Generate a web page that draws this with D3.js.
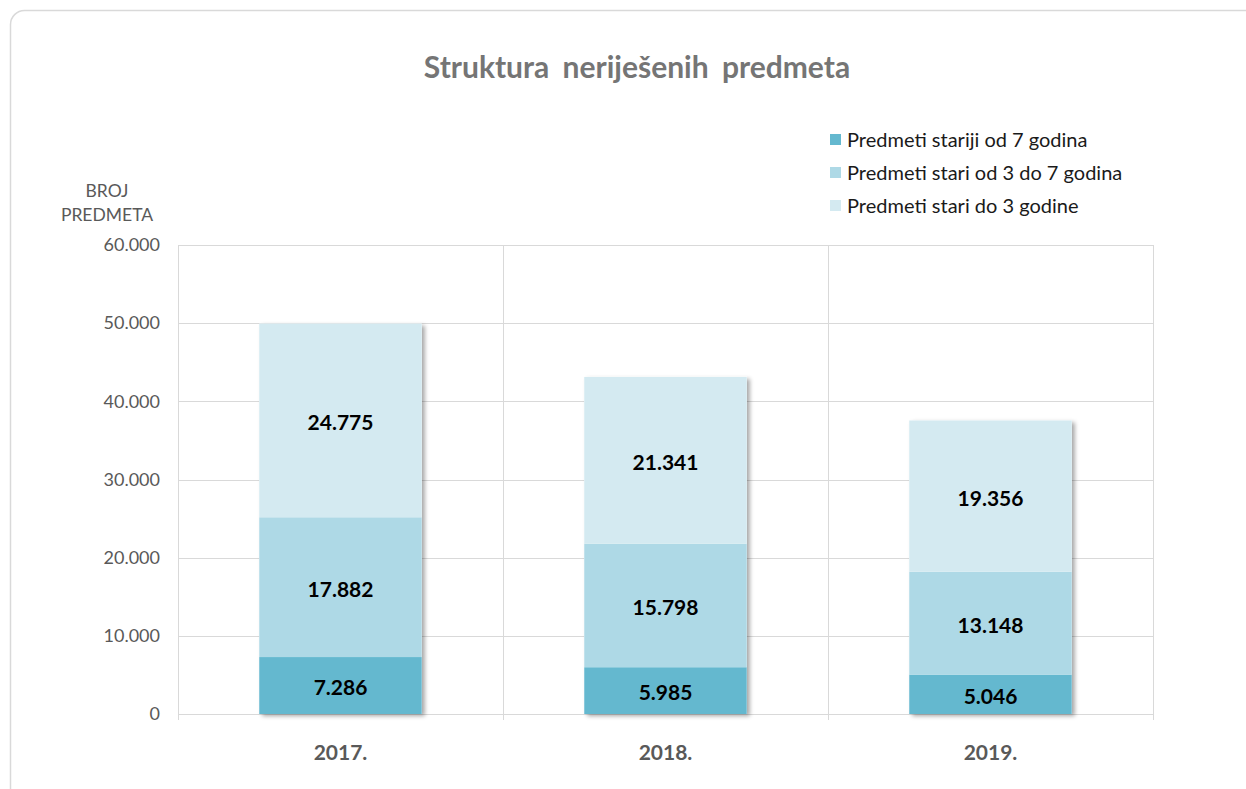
<!DOCTYPE html>
<html><head><meta charset="utf-8">
<script src="https://cdn.jsdelivr.net/npm/d3@7"></script>
<style>body{margin:0;background:#fff;}svg{display:block;font-family:Lato,"Open Sans",sans-serif;}</style>
</head><body>
<svg id="c" width="1246" height="789"></svg>
<script>
const categories = ["2017.", "2018.", "2019."];
const seriesNames = ["Predmeti stariji od 7 godina", "Predmeti stari od 3 do 7 godina", "Predmeti stari do 3 godine"];
const older7 = [7286, 5985, 5046];
const from3to7 = [17882, 15798, 13148];
const upTo3 = [24775, 21341, 19356];
const yTicks = [0, 10000, 20000, 30000, 40000, 50000, 60000];
const colors = ["#64b8cf", "#aed9e6", "#d4eaf1"];

const svg = d3.select("#c");
const defs = svg.append("defs");
const f = defs.append("filter").attr("id","sh").attr("x","-10%").attr("y","-10%").attr("width","130%").attr("height","130%");
f.append("feDropShadow").attr("dx",3).attr("dy",2).attr("stdDeviation",2).attr("flood-color","#000").attr("flood-opacity",0.35);

svg.append("rect").attr("x",10.5).attr("y",10.5).attr("width",1270).attr("height",820).attr("rx",14)
  .attr("fill","#fff").attr("stroke","#d9d9d9").attr("stroke-width",1.5);

const fmt = v => d3.format(",")(v).replace(/,/g, ".");

const x = d3.scaleBand().domain(categories).range([178, 1153]).paddingInner(0).paddingOuter(0);
const y = d3.scaleLinear().domain([0, 60000]).range([714, 245]);

// gridlines
const g = svg.append("g");
g.selectAll(".hg").data(yTicks).join("line")
  .attr("x1",178).attr("x2",1153).attr("y1",d=>Math.round(y(d))+0.5).attr("y2",d=>Math.round(y(d))+0.5)
  .attr("stroke","#d9d9d9").attr("stroke-width",1);
const vb = [178, ...categories.map(c => x(c) + x.bandwidth())];
g.selectAll(".vg").data(vb).join("line")
  .attr("x1",d=>d+0.5).attr("x2",d=>d+0.5).attr("y1",245).attr("y2",720)
  .attr("stroke","#d9d9d9").attr("stroke-width",1);

// y axis labels
const yAxis = d3.axisLeft(y).tickValues(yTicks).tickSize(0).tickPadding(0).tickFormat(fmt);
const ya = svg.append("g").attr("transform","translate(160,0)").call(yAxis);
ya.select(".domain").remove();
ya.selectAll("text").attr("font-size",18).attr("fill","#595959").attr("font-family","Lato,'Open Sans',sans-serif");

// x axis labels
const xAxis = d3.axisBottom(x).tickSize(0).tickPadding(0);
const xa = svg.append("g").attr("transform","translate(0,745)").call(xAxis);
xa.select(".domain").remove();
xa.selectAll("text").attr("font-size",21).attr("font-weight","bold").attr("fill","#595959").attr("font-family","Lato,'Open Sans',sans-serif");

// stacked bars
const rows = categories.map((c,i)=>({cat:c, s0:older7[i], s1:from3to7[i], s2:upTo3[i]}));
const stack = d3.stack().keys(["s0","s1","s2"])(rows);
const bw = x.bandwidth()*0.5;
const barsG = svg.append("g");
barsG.selectAll(".shadow").data(rows).join("rect")
  .attr("x",d=>x(d.cat)+(x.bandwidth()-bw)/2).attr("width",bw)
  .attr("y",d=>y(d.s0+d.s1+d.s2)).attr("height",d=>y(0)-y(d.s0+d.s1+d.s2))
  .attr("fill","#fff").attr("filter","url(#sh)");
stack.forEach((layer,li)=>{
  barsG.selectAll(".l"+li).data(layer).join("rect")
    .attr("x",d=>x(d.data.cat)+(x.bandwidth()-bw)/2).attr("width",bw)
    .attr("y",d=>y(d[1])).attr("height",d=>y(d[0])-y(d[1]))
    .attr("fill",colors[li]);
  barsG.selectAll(".t"+li).data(layer).join("text")
    .attr("x",d=>x(d.data.cat)+x.bandwidth()/2)
    .attr("y",d=>(y(d[0])+y(d[1]))/2)
    .attr("dy","0.45em").attr("text-anchor","middle")
    .attr("font-size",21).attr("font-weight","bold").attr("fill","#000")
    .text(d=>fmt(d[1]-d[0]));
});

// title
svg.append("text").attr("x",637).attr("y",78).attr("text-anchor","middle")
  .attr("font-size",30).attr("font-weight","bold").attr("word-spacing",6).attr("fill","#757575").text("Struktura neriješenih predmeta");

// y axis title
svg.append("text").attr("x",107).attr("y",197).attr("text-anchor","middle").attr("font-size",17.5).attr("fill","#595959").text("BROJ");
svg.append("text").attr("x",107).attr("y",221).attr("text-anchor","middle").attr("font-size",17.5).attr("fill","#595959").text("PREDMETA");

// legend
const lg = svg.append("g");
seriesNames.forEach((n,i)=>{
  const yy = 140 + i*33;
  lg.append("rect").attr("x",830).attr("y",yy-6).attr("width",11).attr("height",11).attr("fill",colors[i]);
  lg.append("text").attr("x",847).attr("y",yy).attr("dy","0.36em").attr("font-size",20).attr("fill","#1a1a1a").text(n);
});
</script>
</body></html>
